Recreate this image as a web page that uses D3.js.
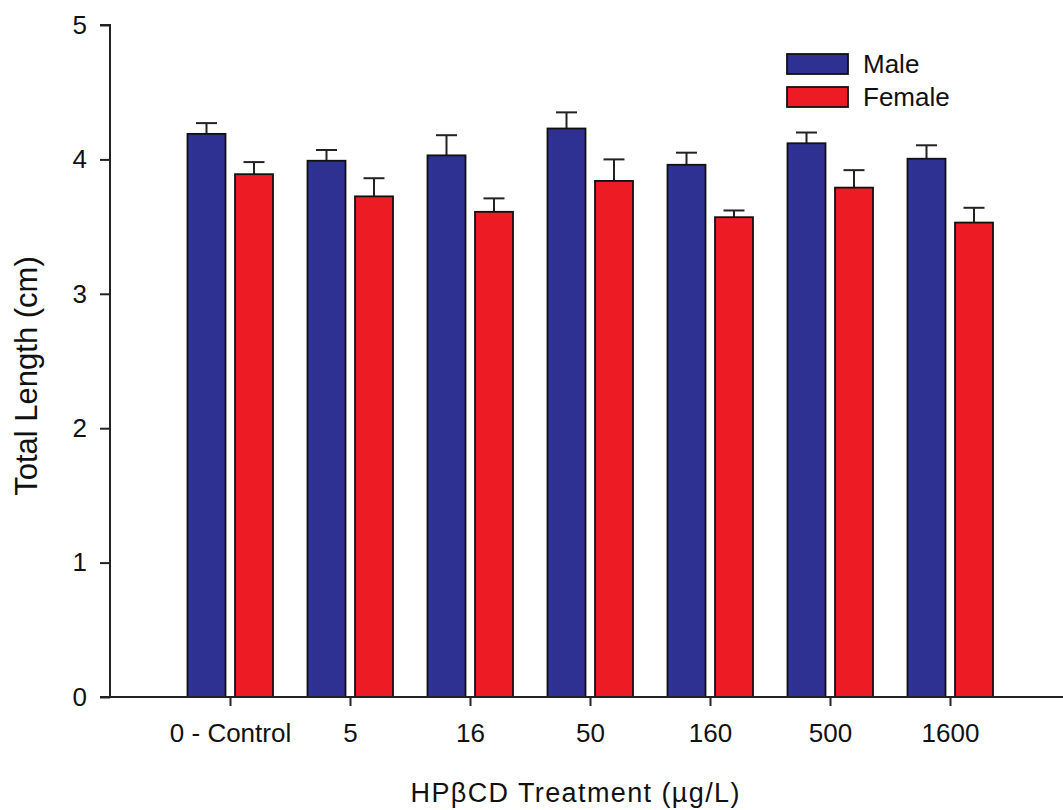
<!DOCTYPE html>
<html><head><meta charset="utf-8">
<script src="https://cdn.jsdelivr.net/npm/d3@7"></script>
<style>body{margin:0;background:#fff}svg{display:block;font-family:"Liberation Sans",Arial,sans-serif}</style>
</head><body><svg id="c" width="1063" height="810"></svg>
<script>
const categories = ["0 - Control","5","16","50","160","500","1600"];
const maleValues = [4.19,3.99,4.03,4.23,3.96,4.12,4.005];
const maleErrors = [0.08,0.08,0.15,0.12,0.09,0.08,0.10];
const femaleValues = [3.89,3.725,3.61,3.84,3.57,3.79,3.53];
const femaleErrors = [0.09,0.135,0.10,0.16,0.05,0.13,0.11];
const yTicks = [0,1,2,3,4,5];
const seriesNames = ["Male","Female"];
const colors = ["#2E3192","#ED1C24"];

const svg = d3.select("#c");
const x = d3.scaleLinear().domain([0, categories.length + 1]).range([110, 1070]);
const y = d3.scaleLinear().domain([0,5]).range([697, 25]);
const FONT = "Liberation Sans, Arial, sans-serif";

const g = svg.append("g");
const series = [
  {name: seriesNames[0], vals: maleValues, errs: maleErrors, color: colors[0], off: -42.5},
  {name: seriesNames[1], vals: femaleValues, errs: femaleErrors, color: colors[1], off: 5}
];
const bw = 38;
series.forEach(s => {
  categories.forEach((c, i) => {
    const cx = x(i + 1) + s.off;
    const mid = cx + bw / 2;
    g.append("line").attr("x1", mid).attr("x2", mid)
      .attr("y1", y(s.vals[i])).attr("y2", y(s.vals[i] + s.errs[i]))
      .attr("stroke", "#222").attr("stroke-width", 2);
    g.append("line").attr("x1", mid - 10.5).attr("x2", mid + 10.5)
      .attr("y1", y(s.vals[i] + s.errs[i])).attr("y2", y(s.vals[i] + s.errs[i]))
      .attr("stroke", "#222").attr("stroke-width", 2);
    g.append("rect").attr("x", cx).attr("width", bw)
      .attr("y", y(s.vals[i])).attr("height", y(0) - y(s.vals[i]))
      .attr("fill", s.color).attr("stroke", "#111").attr("stroke-width", 1.8);
  });
});

// y axis
const ya = svg.append("g").attr("transform", `translate(110,0)`)
  .call(d3.axisLeft(y).tickValues(yTicks).tickFormat(d3.format("d")).tickSize(10).tickPadding(13));
ya.select(".domain").attr("stroke", "#222").attr("stroke-width", 2).attr("d", `M-10,${y(5)}H0V${y(0)}`);
ya.selectAll(".tick line").attr("stroke", "#222").attr("stroke-width", 2);
ya.selectAll(".tick text").attr("font-size", 26).attr("fill", "#111").attr("font-family", FONT);

// x axis
const xa = svg.append("g").attr("transform", `translate(0,${y(0)})`)
  .call(d3.axisBottom(x).tickValues(d3.range(1, categories.length + 1))
    .tickFormat(d => categories[d - 1]).tickSize(9).tickPadding(18));
xa.select(".domain").attr("stroke", "#222").attr("stroke-width", 2).attr("d", `M100,0H1070`);
xa.selectAll(".tick line").attr("stroke", "#222").attr("stroke-width", 2);
xa.selectAll(".tick text").attr("font-size", 26).attr("fill", "#111").attr("font-family", FONT);

// titles
svg.append("text").attr("x", 575).attr("y", 802).attr("text-anchor", "middle")
  .attr("font-size", 27).attr("fill", "#111")
  .attr("textLength", 329).attr("lengthAdjust", "spacing")
  .text("HPβCD Treatment (µg/L)");
svg.append("text").attr("transform", "translate(37,376) rotate(-90)").attr("text-anchor", "middle")
  .attr("font-size", 31).attr("fill", "#111").text("Total Length (cm)");

// legend
series.forEach((s, i) => {
  const ly = 54 + i * 33;
  svg.append("rect").attr("x", 787).attr("y", ly).attr("width", 61).attr("height", 20)
    .attr("fill", s.color).attr("stroke", "#111").attr("stroke-width", 1.8);
  svg.append("text").attr("x", 863).attr("y", ly + 18.5).attr("font-size", 26).attr("fill", "#111").text(s.name);
});
</script></body></html>
